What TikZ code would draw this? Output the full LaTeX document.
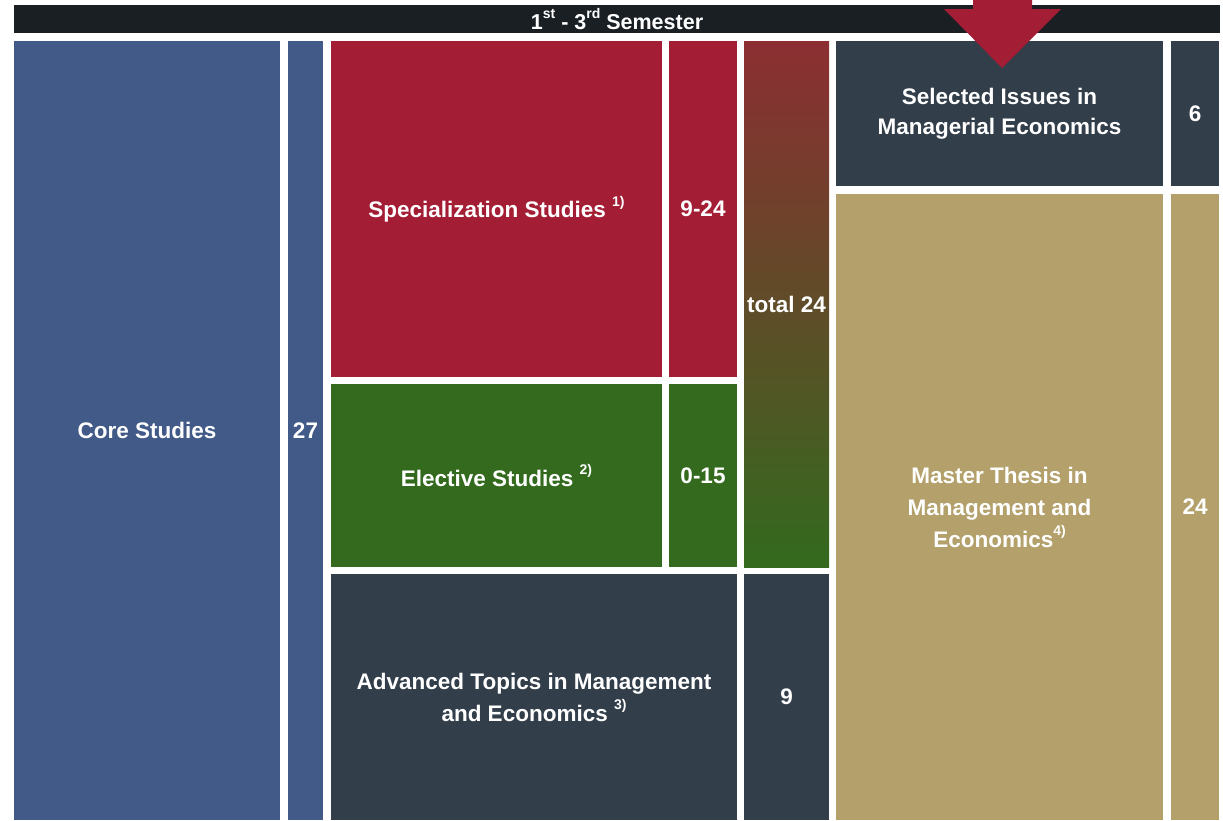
\documentclass[tikz,border=0pt]{standalone}
\usepackage{fontspec}
\setmainfont{Liberation Sans}
\definecolor{cblue}{RGB}{65,90,136}
\definecolor{cred}{RGB}{163,29,53}
\definecolor{cgreen}{RGB}{51,106,30}
\definecolor{cdark}{RGB}{50,62,74}
\definecolor{cgold}{RGB}{179,160,106}
\definecolor{chead}{RGB}{26,31,36}
\definecolor{cgradtop}{RGB}{140,46,50}
\newcommand\mysup[1]{\raisebox{0.5em}{\fontsize{14}{14}\selectfont #1}}
\tikzset{
  blk/.style={anchor=north west, inner sep=0pt, outer sep=0pt, text=white,
    font=\fontsize{22.5}{32}\selectfont\bfseries, align=center},
}
\begin{document}
\begin{tikzpicture}[x=1pt,y=-1pt]
\useasboundingbox (0,0) rectangle (1223,820);
\fill[white] (0,0) rectangle (1223,820);
% header
\node[blk, fill=chead, minimum width=1206pt, minimum height=28pt,
  font=\fontsize{21.5}{24}\selectfont\bfseries] (head) at (14,5)
  {1\mysup{st} - 3\mysup{rd} Semester};
% core
\node[blk, fill=cblue, minimum width=266pt, minimum height=779pt] (core) at (14,41) {Core Studies};
\node[blk, fill=cblue, minimum width=35pt, minimum height=779pt] (c27) at (288,41) {27};
% specialization
\node[blk, fill=cred, minimum width=331pt, minimum height=336pt] (spec) at (331,41) {Specialization Studies \mysup{1)}};
\node[blk, fill=cred, minimum width=68pt, minimum height=336pt] (s924) at (669,41) {9-24};
% total
\node[blk, top color=cgradtop, bottom color=cgreen, minimum width=85pt, minimum height=526pt] (total) at (744,41) {total 24};
% elective
\node[blk, fill=cgreen, minimum width=331pt, minimum height=183pt] (elec) at (331,384) {Elective Studies \mysup{2)}};
\node[blk, fill=cgreen, minimum width=68pt, minimum height=183pt] (e015) at (669,384) {0-15};
% advanced
\node[blk, fill=cdark, minimum width=406pt, minimum height=246pt] (adv) at (331,574) {Advanced Topics in Management\\and Economics \mysup{3)}};
\node[blk, fill=cdark, minimum width=85pt, minimum height=246pt] (a9) at (744,574) {9};
% selected issues
\node[blk, fill=cdark, minimum width=327pt, minimum height=145pt,
  font=\fontsize{22.5}{30}\selectfont\bfseries] (sel) at (836,41) {Selected Issues in\\Managerial Economics};
\node[blk, fill=cdark, minimum width=48pt, minimum height=145pt] (s6) at (1171,41) {6};
% thesis
\node[blk, fill=cgold, minimum width=327pt, minimum height=626pt] (thesis) at (836,194) {Master Thesis in\\Management and\\Economics\mysup{4)}};
\node[blk, fill=cgold, minimum width=48pt, minimum height=626pt] (t24) at (1171,194) {24};
% arrow
\fill[cred] (973,0) -- (1032,0) -- (1032,9) -- (1061,9) -- (1002,68) -- (944,9) -- (973,9) -- cycle;
\end{tikzpicture}
\end{document}
